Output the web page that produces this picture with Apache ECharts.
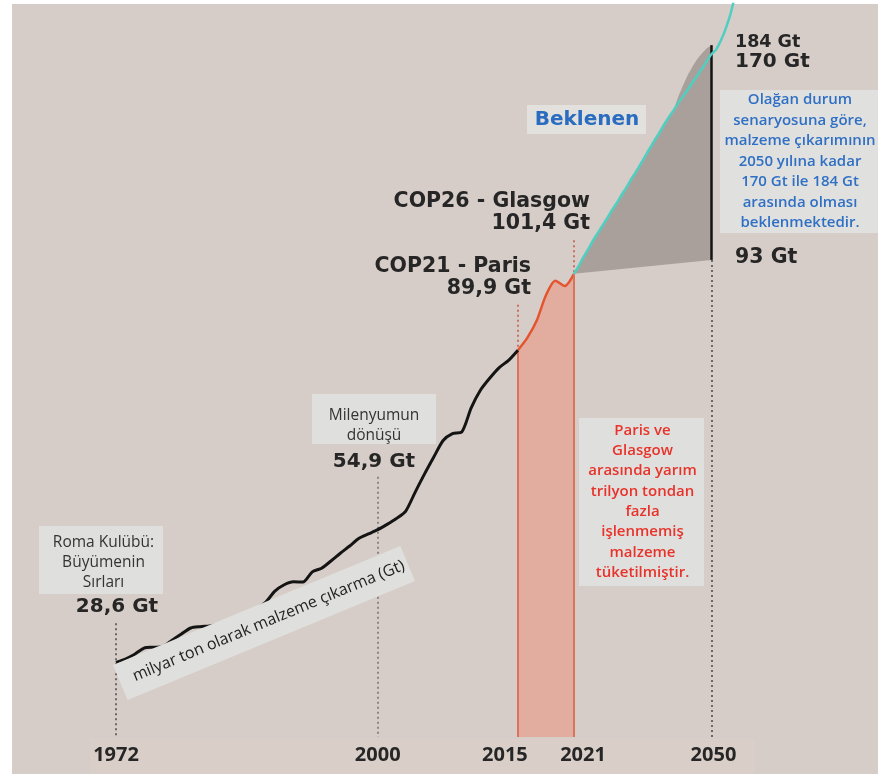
<!DOCTYPE html>
<html>
<head>
<meta charset="utf-8">
<script src="https://cdn.jsdelivr.net/npm/echarts@6/dist/echarts.min.js"></script>
<style>
html,body{margin:0;padding:0;background:#fff;}
#chart{width:878px;height:774px;}
</style>
</head>
<body>
<div id="chart"></div>
<script>
// ---- Data (in chart units of Gt) ----
const histYears = [1972,1973,1974,1975,1976,1977,1978,1979,1980,1981,1982,1983,1984,1985,1986,1987,1988,1989,1990,1991,1992,1993,1994,1995,1996,1997,1998,1999,2000,2001,2002,2003,2004,2005,2006,2007,2008,2009,2010,2011,2012,2013,2014,2015,2016,2017,2018,2019,2020,2021];
const histValues = [28.75,29.4,30.3,31.45,31.6,31.75,32.9,34.1,35.2,35.45,35.6,35.85,36.4,37.25,37.95,38.8,40.0,42.1,43.3,43.85,43.8,45.7,46.4,47.75,49.2,50.55,52.0,52.8,53.6,54.6,55.7,57.1,60.6,64.0,67.2,70.3,71.6,71.9,76.4,79.75,82.0,83.95,85.3,87.2,89.5,92.7,97.5,100.2,99.2,101.5];
const splitYear = 2015;

const projYears = [2021,2022,2023,2024,2025,2026,2027,2028,2029,2030,2031,2032,2033,2034,2035,2036,2037,2038,2039,2040,2041,2042,2043,2044,2045,2046,2047,2048,2049,2050,2051,2052,2053,2054,2055];
const expectedValues = [101.5,103.0,104.6,106.1,107.7,109.1,110.5,111.9,113.4,114.7,116.2,117.6,119.1,120.5,122.0,123.5,125.0,126.5,127.9,129.4,130.8,132.1,133.5,134.7,136.0,137.3,138.6,139.9,141.3,142.6,143.5,145.2,147.4,150.1,153.7];

const upperYears = [2021,2022,2023,2024,2025,2026,2027,2028,2029,2030,2031,2032,2033,2034,2035,2036,2037,2038,2039,2040,2041,2042,2043,2044,2045,2046,2047,2048,2049,2050];
const upperValues = [101.5,103.0,104.6,106.1,107.7,109.1,110.5,111.9,113.4,114.7,116.2,117.6,119.1,120.5,122.0,123.5,125.0,126.5,127.9,129.4,130.8,132.1,134.7,136.8,138.7,140.3,141.7,142.8,143.7,144.3];
const lowerYears = [2021, 2050];
const lowerValues = [101.5, 104.1];

const tickYearsHist = [1972, 2000, 2015, 2021];
const tickYearsProj = [2050];

// ---- Build series data ----
const blackData = [], orangeData = [];
histYears.forEach((y, i) => {
  if (y <= splitYear) blackData.push([y, histValues[i]]);
  if (y >= splitYear) orangeData.push([y, histValues[i]]);
});
const cyanData = projYears.map((y, i) => [y, expectedValues[i]]);
const upperPts = upperYears.map((y, i) => [y, upperValues[i]]);
const lowerPts = lowerYears.map((y, i) => [y, lowerValues[i]]);
const valAt = (years, vals, yr) => vals[years.indexOf(yr)];

const YMIN = 14.8, YMAX = 152;
const FONT = "'Open Sans', sans-serif";
const BFONT = "'DejaVu Sans', sans-serif";
const DARK = '#262626';

const chart = echarts.init(document.getElementById('chart'), null, {renderer: 'canvas'});

function dotted(x, y0, y1, color) {
  return [{coord: [x, y0], lineStyle: {color: color, type: [2, 3], width: 2}}, {coord: [x, y1]}];
}
function solid(x, y0, y1, color, w) {
  return [{coord: [x, y0], lineStyle: {color: color, type: 'solid', width: w}}, {coord: [x, y1]}];
}
const mlBase = {silent: true, symbol: 'none', animation: false, label: {show: false}, emphasis: {disabled: true}};

const labelStyle = {fontSize: 20, fontWeight: 'bold', color: DARK, fontFamily: FONT};

const option = {
  backgroundColor: '#ffffff',
  animation: false,
  grid: [
    {left: 116, width: 458, top: 4, bottom: 37},
    {left: 574, width: 184.9, top: 4, bottom: 37}
  ],
  xAxis: [
    {type: 'value', gridIndex: 0, min: 1972, max: 2021,
      axisLine: {show: false}, axisTick: {show: false}, splitLine: {show: false},
      axisLabel: {
        customValues: tickYearsHist, margin: 8, showMinLabel: true, showMaxLabel: true,
        formatter: v => v === 2015 ? '{a|' + v + '}' : v === 2021 ? '{b|' + v + '}' : '{c|' + v + '}',
        rich: {
          a: Object.assign({padding: [0, 26, 0, 0]}, labelStyle),
          b: Object.assign({padding: [0, 0, 0, 18]}, labelStyle),
          c: Object.assign({}, labelStyle)
        }
      }},
    {type: 'value', gridIndex: 1, min: 2021, max: 2060,
      axisLine: {show: false}, axisTick: {show: false}, splitLine: {show: false},
      axisLabel: {customValues: tickYearsProj, margin: 8, formatter: v => '{c|' + v + '}',
        rich: {c: Object.assign({padding: [0, 0, 0, 4]}, labelStyle)}}}
  ],
  yAxis: [
    {type: 'value', gridIndex: 0, min: YMIN, max: YMAX, show: false},
    {type: 'value', gridIndex: 1, min: YMIN, max: YMAX, show: false}
  ],
  graphic: [
    {type: 'rect', z: -10, silent: true, shape: {x: 12, y: 4, width: 866, height: 770}, style: {fill: '#d7cdc8'}},
    {type: 'rect', z: -9, silent: true, shape: {x: 90, y: 739, width: 665, height: 35}, style: {fill: '#dcd1c8', opacity: 0.5}},

    // Roma Kulübü box
    {type: 'rect', z: 50, shape: {x: 39, y: 526, width: 124, height: 68}, style: {fill: '#dfe0dd'}},
    {type: 'text', z: 51, style: {text: 'Roma Kulübü:\nBüyümenin\nSırları', x: 103.5, y: 563, align: 'center', verticalAlign: 'middle', lineHeight: 20, fill: '#333', font: '15.5px ' + FONT}},
    {type: 'text', z: 51, style: {text: '28,6 Gt', x: 117, y: 607, align: 'center', verticalAlign: 'middle', fill: DARK, font: 'bold 20px ' + BFONT}},

    // Milenyumun box
    {type: 'rect', z: 50, shape: {x: 312, y: 394, width: 124, height: 50}, style: {fill: '#dfe0dd'}},
    {type: 'text', z: 51, style: {text: 'Milenyumun\ndönüşü', x: 374, y: 426, align: 'center', verticalAlign: 'middle', lineHeight: 20, fill: '#333', font: '15.5px ' + FONT}},
    {type: 'text', z: 51, style: {text: '54,9 Gt', x: 374, y: 462, align: 'center', verticalAlign: 'middle', fill: DARK, font: 'bold 20px ' + BFONT}},

    // COP labels
    {type: 'text', z: 51, style: {text: 'COP26 - Glasgow\n101,4 Gt', x: 590, y: 212.5, align: 'right', verticalAlign: 'middle', lineHeight: 21.5, fill: DARK, font: 'bold 20.5px ' + BFONT}},
    {type: 'text', z: 51, style: {text: 'COP21 - Paris\n89,9 Gt', x: 531, y: 277.5, align: 'right', verticalAlign: 'middle', lineHeight: 21.5, fill: DARK, font: 'bold 20.5px ' + BFONT}},

    // Beklenen
    {type: 'rect', z: 50, shape: {x: 527, y: 105, width: 119, height: 29}, style: {fill: '#e2e1de'}},
    {type: 'text', z: 51, style: {text: 'Beklenen', x: 587, y: 120, align: 'center', verticalAlign: 'middle', fill: '#2a6cbf', font: 'bold 20px ' + BFONT}},

    // 184 / 170 / 93
    {type: 'text', z: 51, style: {text: '184 Gt', x: 735, y: 42, align: 'left', verticalAlign: 'middle', fill: DARK, font: 'bold 17.5px ' + BFONT}},
    {type: 'text', z: 51, style: {text: '170 Gt', x: 735, y: 62, align: 'left', verticalAlign: 'middle', fill: DARK, font: 'bold 20px ' + BFONT}},
    {type: 'text', z: 51, style: {text: '93 Gt', x: 735, y: 258, align: 'left', verticalAlign: 'middle', fill: DARK, font: 'bold 20.5px ' + BFONT}},

    // Blue note
    {type: 'rect', z: 50, shape: {x: 720, y: 90, width: 158, height: 143}, style: {fill: '#e0e1df'}},
    {type: 'text', z: 51, style: {text: 'Olağan durum\nsenaryosuna göre,\nmalzeme çıkarımının\n2050 yılına kadar\n170 Gt ile 184 Gt\narasında olması\nbeklenmektedir.', x: 800, y: 161.5, align: 'center', verticalAlign: 'middle', lineHeight: 20.5, fill: '#2f6fc4', font: '600 15px ' + FONT}},

    // Red note
    {type: 'rect', z: 50, shape: {x: 579, y: 418, width: 125, height: 168}, style: {fill: '#dfe0dd'}},
    {type: 'text', z: 51, style: {text: 'Paris ve\nGlasgow\narasında yarım\ntrilyon tondan\nfazla\nişlenmemiş\nmalzeme\ntüketilmiştir.', x: 642.5, y: 501.5, align: 'center', verticalAlign: 'middle', lineHeight: 20.35, fill: '#e8322a', font: '600 15px ' + FONT}},

    // Rotated axis-title box
    {type: 'group', z: 50, x: 264, y: 623, rotation: 22.5 * Math.PI / 180, children: [
      {type: 'rect', z: 50, shape: {x: -155.5, y: -19, width: 311, height: 38}, style: {fill: '#dfe0dd'}},
      {type: 'text', z: 51, style: {text: 'milyar ton olarak malzeme çıkarma (Gt)', x: 5, y: 0, align: 'center', verticalAlign: 'middle', fill: '#222', font: '16px ' + FONT}}
    ]}
  ],
  series: [
    {
      name: 'history', type: 'line', xAxisIndex: 0, yAxisIndex: 0, data: blackData,
      showSymbol: false, smooth: 0.25, z: 5,
      lineStyle: {color: '#141414', width: 3},
      markLine: Object.assign({}, mlBase, {data: [
        dotted(1972, 36.1, YMIN, '#6a6766'),
        dotted(2000, 63.5, YMIN, '#8a8583')
      ]})
    },
    {
      name: 'paris-glasgow', type: 'line', xAxisIndex: 0, yAxisIndex: 0, data: orangeData,
      showSymbol: false, smooth: 0.25, z: 4,
      lineStyle: {color: '#e4552f', width: 2.5},
      areaStyle: {color: '#e2ad9e', opacity: 1, origin: 'start'},
      markLine: Object.assign({}, mlBase, {data: [
        solid(2015, YMIN, valAt(histYears, histValues, 2015), '#d9735b', 2),
        solid(2021, YMIN, valAt(histYears, histValues, 2021), '#d9735b', 2),
        dotted(2015, 95.7, valAt(histYears, histValues, 2015), '#c9715e'),
        dotted(2021, 107.8, valAt(histYears, histValues, 2021), '#c9715e')
      ]})
    },
    {
      name: 'range', type: 'custom', xAxisIndex: 1, yAxisIndex: 1, data: [[2021, 101.5]], z: 3, silent: true,
      renderItem: function (params, api) {
        const pts = upperPts.map(p => api.coord(p)).concat(lowerPts.slice().reverse().map(p => api.coord(p)));
        return {type: 'polygon', shape: {points: pts}, style: {fill: '#a9a09c'}};
      }
    },
    {
      name: 'expected', type: 'line', xAxisIndex: 1, yAxisIndex: 1, data: cyanData,
      showSymbol: false, smooth: 0.25, z: 6, clip: true,
      lineStyle: {color: '#4fcfc2', width: 2.5},
      markLine: Object.assign({}, mlBase, {data: [
        dotted(2050, lowerValues[1], YMIN, '#6a6766'),
        solid(2050, lowerValues[1], upperValues[upperValues.length - 1], '#141414', 2.5)
      ]})
    }
  ]
};
chart.setOption(option);
</script>
</body>
</html>
